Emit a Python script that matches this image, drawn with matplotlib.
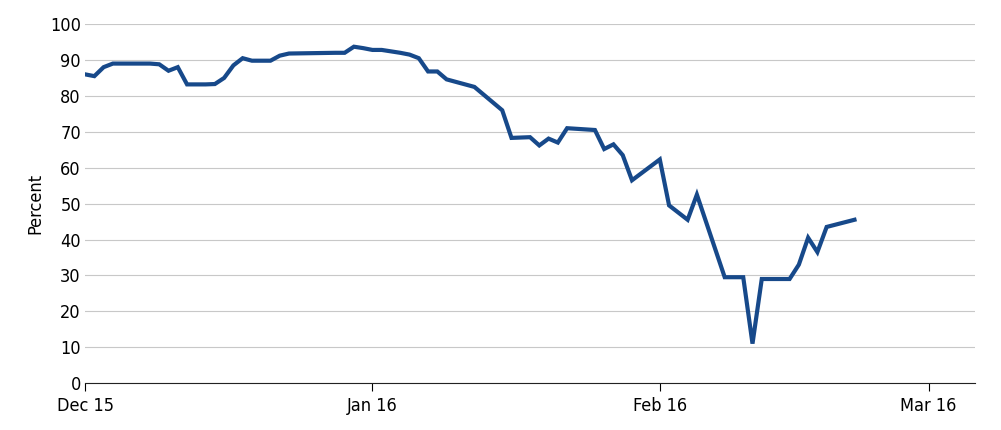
import matplotlib
matplotlib.use('Agg')
import matplotlib.pyplot as plt
import matplotlib.dates as mdates
import pandas as pd

plt.rcParams['font.family'] = ['DejaVu Sans']
plt.rcParams['font.stretch'] = 'condensed'

dates = [
    '2015-12-01', '2015-12-02', '2015-12-03', '2015-12-04', '2015-12-07', '2015-12-08',
    '2015-12-09', '2015-12-10', '2015-12-11', '2015-12-12', '2015-12-14', '2015-12-15',
    '2015-12-16', '2015-12-17', '2015-12-18', '2015-12-19', '2015-12-21', '2015-12-22',
    '2015-12-23', '2015-12-28', '2015-12-29', '2015-12-30', '2015-12-31', '2016-01-01',
    '2016-01-02', '2016-01-04', '2016-01-05', '2016-01-06', '2016-01-07', '2016-01-08',
    '2016-01-09', '2016-01-12', '2016-01-15', '2016-01-16', '2016-01-18', '2016-01-19',
    '2016-01-20', '2016-01-21', '2016-01-22', '2016-01-25', '2016-01-26', '2016-01-27',
    '2016-01-28', '2016-01-29', '2016-02-01', '2016-02-02', '2016-02-04', '2016-02-05',
    '2016-02-08', '2016-02-10', '2016-02-11', '2016-02-12', '2016-02-15', '2016-02-16',
    '2016-02-17', '2016-02-18', '2016-02-19', '2016-02-22',
]
values = [
    86, 85.5, 88, 89, 89, 89,
    88.8, 87, 88, 83.2, 83.2, 83.3,
    85, 88.5, 90.5, 89.8, 89.8, 91.2,
    91.8, 92, 92, 93.7, 93.3, 92.8,
    92.8, 92, 91.5, 90.5, 86.8, 86.8,
    84.6, 82.5, 76, 68.3, 68.5, 66.2,
    68.1, 67, 71, 70.5, 65.2, 66.5,
    63.5, 56.5, 62.3, 49.5, 45.5, 52.5,
    29.5, 29.5, 11, 29, 29, 33,
    40.5, 36.5, 43.5, 45.5,
]
x = pd.to_datetime(dates)

fig = plt.figure(figsize=(10.01, 4.30), dpi=100)
ax = fig.add_axes([0.085, 0.109, 0.889, 0.835])
ax.plot(x, values, color='#17498a', linewidth=3, solid_joinstyle='miter')

ax.set_ylim(0, 100)
ax.set_yticks(range(0, 101, 10))
ax.set_xlim(pd.Timestamp('2015-12-01'), pd.Timestamp('2016-03-06'))
ax.xaxis.set_major_locator(mdates.MonthLocator())
ax.xaxis.set_major_formatter(mdates.DateFormatter('%b %y'))
ax.grid(axis='y', color='#c8c8c8', linewidth=0.8)
ax.set_axisbelow(True)
for s in ['top', 'right', 'left']:
    ax.spines[s].set_visible(False)
ax.spines['bottom'].set_color('#222222')
ax.tick_params(axis='y', length=0, labelsize=13, pad=3)
ax.tick_params(axis='x', length=6, direction='out', labelsize=13, pad=4)
ax.set_ylabel('Percent', fontsize=13)

fig.savefig('out.png', dpi=100)
